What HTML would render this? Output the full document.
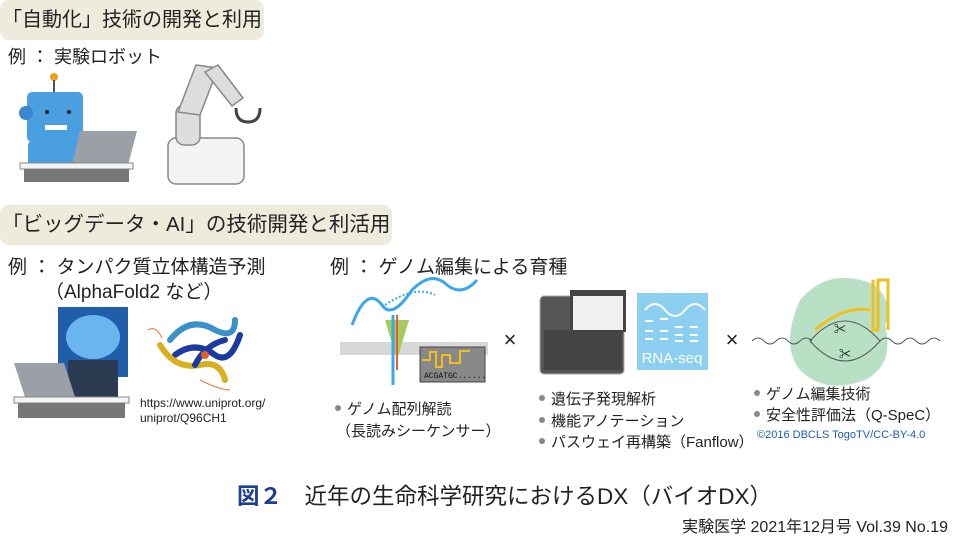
<!DOCTYPE html>
<html><head><meta charset="utf-8"><style>
body{margin:0;width:954px;height:546px;background:#fff;position:relative;overflow:hidden;font-family:"Liberation Sans","Noto Sans CJK JP",sans-serif;color:#222}
.t{position:absolute;white-space:nowrap}
.hd{position:absolute;background:#eeeadc;border-radius:9px;font-size:20px;line-height:40px;padding-left:2px}
.b{font-size:15px}
.b:before{content:"";display:inline-block;width:6px;height:6px;border-radius:50%;background:#888;margin:0 6px 3px 2px}
</style></head><body>
<div class="hd" style="left:0;top:0;width:262px;height:40px">「自動化」技術の開発と利用</div>
<div class="t" style="left:8px;top:43px;font-size:18px">例 ： 実験ロボット</div>
<div class="hd" style="left:0;top:205px;width:390px;height:40px;font-size:20.5px">「ビッグデータ・AI」の技術開発と利活用</div>
<div class="t" style="left:8px;top:252px;font-size:19px">例 ： タンパク質立体構造予測</div>
<div class="t" style="left:45px;top:277px;font-size:19px">（AlphaFold2 など）</div>
<div class="t" style="left:330px;top:252px;font-size:19px">例 ： ゲノム編集による育種</div>
<div class="t" style="left:140px;top:396px;font-size:12px;line-height:15px">https://www.uniprot.org/<br>uniprot/Q96CH1</div>

<svg style="position:absolute;left:0;top:0" width="954" height="546">
<circle cx="54" cy="77" r="4" fill="#f0a020"/><line x1="54" y1="80" x2="54" y2="92" stroke="#555" stroke-width="2"/>
<rect x="27" y="92" width="56" height="50" rx="5" fill="#4a9fe0"/>
<circle cx="26" cy="113" r="7" fill="#3a88cc"/>
<circle cx="47" cy="112" r="2" fill="#222"/><circle cx="69" cy="112" r="2" fill="#222"/>
<rect x="45" y="125" width="22" height="5" fill="#fff"/>
<rect x="28" y="140" width="54" height="32" rx="6" fill="#4a9fe0"/>
<polygon points="80,131 137,131 128,165 72,165" fill="#9aa0a6"/>
<rect x="20" y="163" width="113" height="6" fill="#f4f4f4" stroke="#888"/>
<rect x="24" y="169" width="105" height="13" fill="#777"/>
<rect x="168" y="138" width="76" height="46" rx="8" fill="#f4f4f4" stroke="#888" stroke-width="1.5"/>
<rect x="176" y="105" width="24" height="40" rx="8" fill="#ddd" stroke="#888" stroke-width="1.5"/>
<polygon points="178,112 196,65 218,68 200,115" fill="#ddd" stroke="#888" stroke-width="1.5"/>
<polygon points="205,72 218,65 243,98 232,106" fill="#ddd" stroke="#888" stroke-width="1.5"/>
<path d="M236,108 q0,14 12,14 q12,0 12,-14" fill="none" stroke="#444" stroke-width="3"/>
<rect x="58" y="307" width="70" height="70" fill="#1f5ea8"/>
<ellipse cx="93" cy="337" rx="27" ry="22" fill="#6ab5f0"/>
<rect x="68" y="360" width="50" height="38" fill="#2a3a50"/>
<polygon points="14,363 64,363 76,400 26,400" fill="#9aa0a6"/>
<rect x="14" y="397" width="115" height="6" fill="#f4f4f4" stroke="#888"/>
<rect x="18" y="403" width="107" height="15" fill="#777"/>
<g stroke-width="6" fill="none" stroke-linecap="round">
<path d="M170,340 q20,-25 45,-10 q20,10 20,-10" stroke="#3a90c8"/>
<path d="M175,355 q20,-15 40,0 q15,10 25,-20" stroke="#1a3aa0"/>
<path d="M160,345 q15,25 40,20 q20,-5 25,15" stroke="#d8b020"/>
<path d="M195,365 q10,-20 30,-25" stroke="#1a3aa0"/>
</g>
<circle cx="205" cy="355" r="4" fill="#e06020"/>
<path d="M148,330 q8,-5 14,8 M200,380 q20,10 30,10" stroke="#e07030" fill="none"/>
<rect x="340" y="342" width="148" height="13" fill="#d8d8d8"/>
<path d="M352,325 q15,-40 30,-20 q10,15 30,-15 q20,-20 35,-5 q15,12 30,-5" stroke="#3aa8e8" stroke-width="3" fill="none"/>
<path d="M385,305 q30,-20 50,-10" stroke="#3aa8e8" stroke-width="2" fill="none" stroke-dasharray="2 2"/>
<path d="M385,320 l12,40 l12,-40 z" fill="#a8c860"/>
<line x1="393" y1="315" x2="393" y2="385" stroke="#3aa8e8" stroke-width="3"/>
<line x1="397" y1="315" x2="397" y2="370" stroke="#e06030" stroke-width="2"/>
<rect x="420" y="347" width="65" height="35" fill="#888" stroke="#444"/>
<path d="M422,360 h8 v-8 h6 v15 h6 v-12 h8 v8 h10 v-12 h10" stroke="#f0c020" fill="none" stroke-width="2"/>
<text x="424" y="378" font-size="8" font-family="Liberation Mono" fill="#111">ACGATGC......</text>
<text x="510" y="347" font-size="22" fill="#222" text-anchor="middle">×</text>
<rect x="540" y="296" width="84" height="78" rx="4" fill="#555" stroke="#aaa"/>
<rect x="570" y="290" width="56" height="42" fill="#444"/>
<rect x="573" y="296" width="50" height="34" fill="#f0f0f0"/>
<rect x="544" y="330" width="78" height="40" fill="#444"/>
<rect x="637" y="293" width="71" height="77" fill="#8ccff0"/>
<path d="M645,310 q10,-12 20,0 t20,0 t20,0" stroke="#fff" fill="none" stroke-width="2"/>
<g fill="#fff"><rect x="645" y="320" width="8" height="2"/><rect x="660" y="318" width="8" height="2"/><rect x="675" y="326" width="8" height="2"/><rect x="690" y="326" width="8" height="2"/><rect x="645" y="330" width="8" height="2"/><rect x="660" y="330" width="8" height="2"/><rect x="675" y="334" width="8" height="2"/><rect x="690" y="334" width="8" height="2"/><rect x="645" y="338" width="8" height="2"/><rect x="660" y="338" width="8" height="2"/><rect x="675" y="340" width="8" height="2"/><rect x="690" y="340" width="8" height="2"/></g>
<text x="672" y="363" font-size="15" fill="#fff" text-anchor="middle">RNA-seq</text>
<text x="732" y="347" font-size="22" fill="#222" text-anchor="middle">×</text>
<path d="M800,300 q30,-35 75,-15 q20,20 10,40 q10,40 -20,55 q-40,15 -65,-10 q-20,-25 0,-70z" fill="#b8e0c4"/>
<path d="M873,280 v50 h5 v-50 h10 v50" stroke="#f0c020" stroke-width="3" fill="none"/>
<path d="M815,330 q30,-25 55,-20" stroke="#f0c020" stroke-width="3" fill="none"/>
<path d="M752,341 q6,-6 12,0 t12,0 t12,0 t12,0 t12,0" stroke="#555" fill="none"/>
<path d="M880,341 q6,-6 12,0 t12,0 t12,0 t12,0 t12,0" stroke="#555" fill="none"/>
<path d="M810,341 q35,-40 70,0 q-35,40 -70,0" stroke="#555" fill="none"/>
<text x="840" y="333" font-size="12" text-anchor="middle">✂</text>
<text x="845" y="358" font-size="12" text-anchor="middle">✂</text>
</svg>

<div class="t b" style="left:333px;top:398px">ゲノム配列解読</div>
<div class="t" style="left:336px;top:420px;font-size:15px">（長読みシーケンサー）</div>
<div class="t b" style="left:537px;top:388px">遺伝子発現解析</div>
<div class="t b" style="left:537px;top:410px">機能アノテーション</div>
<div class="t b" style="left:537px;top:431px">パスウェイ再構築（Fanflow）</div>
<div class="t b" style="left:752px;top:383px">ゲノム編集技術</div>
<div class="t b" style="left:752px;top:404px">安全性評価法（Q-SpeC）</div>
<div class="t" style="left:757px;top:429px;font-size:11px;color:#1a5cc0">©2016 DBCLS TogoTV/CC-BY-4.0</div>
<div class="t" style="left:237px;top:479px;font-size:22.5px"><b style="color:#1c3f94">図２</b>　近年の生命科学研究におけるDX（バイオDX）</div>
<div class="t" style="right:6px;top:513px;font-size:16px">実験医学 2021年12月号 Vol.39 No.19</div>
</body></html>
